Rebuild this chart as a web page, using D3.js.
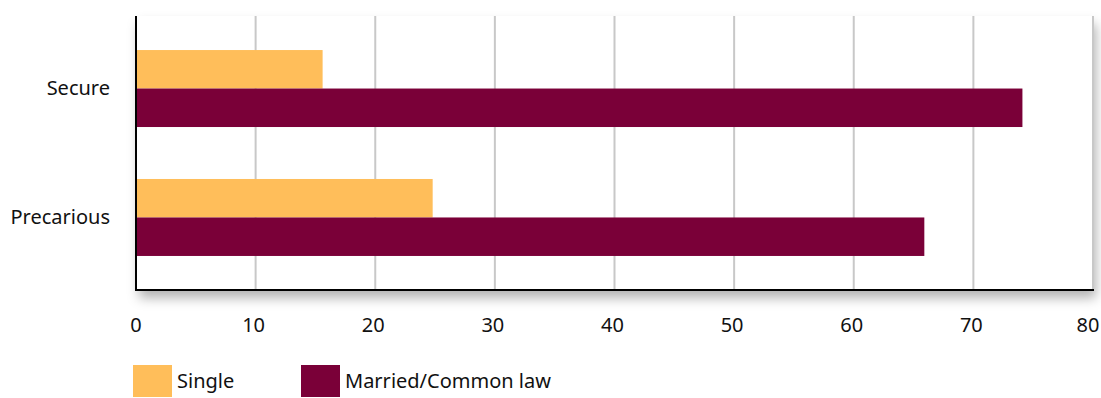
<!DOCTYPE html>
<html>
<head>
<meta charset="utf-8">
<script src="https://cdn.jsdelivr.net/npm/d3@7"></script>
<style>
  html, body { margin: 0; padding: 0; background: #fff; }
  svg { display: block; font-family: "Noto Sans", "Open Sans", sans-serif; }
</style>
</head>
<body>
<svg id="chart" width="1101" height="398"></svg>
<script>
// Share of workers by job security and marital status (%)
const categories = ["Secure", "Precarious"];
const seriesNames = ["Single", "Married/Common law"];
const singleValues = [15.6, 24.8];
const marriedValues = [74.1, 65.9];
const xTicks = [0, 10, 20, 30, 40, 50, 60, 70, 80];
const colors = ["#ffbe5a", "#7a0038"];

const svg = d3.select("#chart");
const plotLeft = 136, plotRight = 1093, plotTop = 16, plotBottom = 290;

const x = d3.scaleLinear().domain([0, 80]).range([plotLeft, plotRight]);
const y = d3.scaleBand().domain(categories).range([plotTop, plotBottom])
  .paddingInner(0.403).paddingOuter(0.264);
const ySub = d3.scaleBand().domain(seriesNames).range([0, y.bandwidth()]);

// soft shadow behind the plot area
const defs = svg.append("defs");
const f = defs.append("filter").attr("id", "shadow")
  .attr("x", "-5%").attr("y", "-5%").attr("width", "115%").attr("height", "130%");
f.append("feDropShadow").attr("dx", 3).attr("dy", 8)
  .attr("stdDeviation", 6).attr("flood-color", "#000").attr("flood-opacity", 0.3);

svg.append("rect")
  .attr("x", plotLeft).attr("y", plotTop)
  .attr("width", plotRight - plotLeft).attr("height", plotBottom - plotTop)
  .attr("fill", "#fff").attr("filter", "url(#shadow)");

// vertical gridlines
svg.append("g").selectAll("line")
  .data(xTicks.filter(d => d > 0))
  .join("line")
  .attr("x1", d => x(d)).attr("x2", d => x(d))
  .attr("y1", plotTop).attr("y2", plotBottom)
  .attr("stroke", "#c8c8c8").attr("stroke-width", 2);

// bars
const rows = categories.map((c, i) => ({
  category: c,
  values: [singleValues[i], marriedValues[i]]
}));
const groups = svg.append("g").selectAll("g")
  .data(rows).join("g")
  .attr("transform", d => `translate(0,${y(d.category)})`);
groups.selectAll("rect")
  .data(d => d.values.map((v, j) => ({ name: seriesNames[j], value: v, j })))
  .join("rect")
  .attr("x", x(0))
  .attr("y", d => ySub(d.name))
  .attr("width", d => x(d.value) - x(0))
  .attr("height", ySub.bandwidth())
  .attr("fill", d => colors[d.j]);

// axis lines
svg.append("line")
  .attr("x1", plotLeft).attr("x2", plotLeft).attr("y1", plotTop).attr("y2", plotBottom + 1)
  .attr("stroke", "#000").attr("stroke-width", 2);
svg.append("line")
  .attr("x1", plotLeft - 1).attr("x2", plotRight + 1).attr("y1", plotBottom).attr("y2", plotBottom)
  .attr("stroke", "#000").attr("stroke-width", 2);

// x tick labels
svg.append("g").selectAll("text")
  .data(xTicks).join("text")
  .attr("x", d => x(d) - (d === 80 ? 5 : d === 0 ? 0 : 2))
  .attr("y", 332)
  .attr("text-anchor", "middle")
  .attr("font-size", 20)
  .attr("fill", "#111")
  .text(d => d);

// category labels
svg.append("g").selectAll("text")
  .data(categories).join("text")
  .attr("x", 110)
  .attr("y", d => y(d) + y.bandwidth() / 2)
  .attr("dy", "0.33em")
  .attr("text-anchor", "end")
  .attr("font-size", 20)
  .attr("fill", "#111")
  .text(d => d);

// legend
const legendX = [133, 301];
const legend = svg.append("g").selectAll("g")
  .data(seriesNames).join("g")
  .attr("transform", (d, i) => `translate(${legendX[i]},365)`);
legend.append("rect")
  .attr("width", 39).attr("height", 32)
  .attr("fill", (d, i) => colors[i]);
legend.append("text")
  .attr("x", 44).attr("y", 23)
  .attr("font-size", 20)
  .attr("fill", "#111")
  .text(d => d);
</script>
</body>
</html>
